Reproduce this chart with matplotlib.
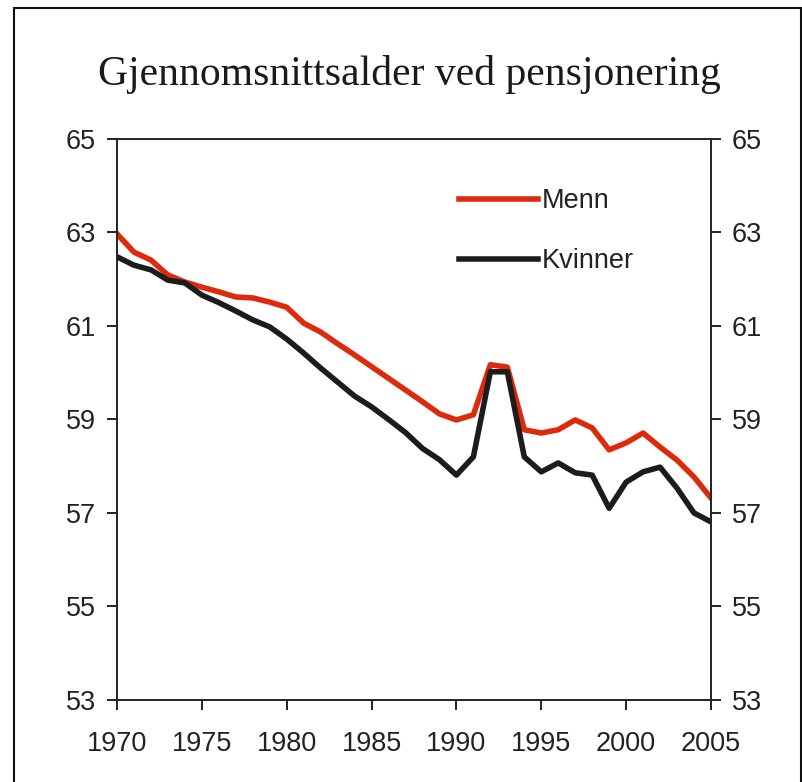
import matplotlib
matplotlib.use("Agg")
import matplotlib.pyplot as plt
from matplotlib.patches import Rectangle

years = list(range(1970, 2006))
menn = [62.97, 62.58, 62.41, 62.09, 61.94, 61.83, 61.73, 61.62, 61.60, 61.51,
        61.40, 61.06, 60.87, 60.62, 60.38, 60.13, 59.88, 59.63, 59.38, 59.12,
        58.99, 59.10, 60.17, 60.12, 58.78, 58.71, 58.78, 58.99, 58.82, 58.35,
        58.50, 58.71, 58.41, 58.13, 57.77, 57.32]
kvinner = [62.48, 62.30, 62.20, 61.98, 61.92, 61.66, 61.50, 61.32, 61.13, 60.98,
           60.72, 60.42, 60.10, 59.80, 59.50, 59.27, 59.00, 58.72, 58.38, 58.14,
           57.81, 58.20, 60.02, 60.02, 58.20, 57.88, 58.07, 57.86, 57.81, 57.10,
           57.66, 57.88, 57.98, 57.53, 57.00, 56.81]
yticks = [53, 55, 57, 59, 61, 63, 65]
xticks = [1970, 1975, 1980, 1985, 1990, 1995, 2000, 2005]
title = "Gjennomsnittsalder ved pensjonering"

fig = plt.figure(figsize=(8.03, 7.82), dpi=100)
ax = fig.add_axes([0.1457, 0.1049, 0.7397, 0.7174])

ax.plot(years, menn, color="#DD2A0C", lw=4.0, label="Menn", solid_joinstyle="round")
ax.plot(years, kvinner, color="#1C1C1C", lw=4.0, label="Kvinner", solid_joinstyle="round")

ax.set_xlim(1970, 2005)
ax.set_ylim(53, 65)
ax.set_xticks(xticks)
ax.set_yticks(yticks)
for s in ax.spines.values():
    s.set_linewidth(1.4)
    s.set_color("#222222")
ax.tick_params(axis="both", direction="out", length=7.2, width=1.4, color="#222222",
               labelsize=19.5, labelcolor="#222222")
ax.tick_params(axis="y", left=True, right=True, labelleft=True, labelright=True, pad=8)
ax.tick_params(axis="x", top=False, pad=15)
for t in ax.xaxis.get_major_ticks():
    t.label1.set_family("Liberation Sans")
for t in ax.yaxis.get_major_ticks():
    t.label1.set_family("Liberation Sans")
    t.label2.set_family("Liberation Sans")

leg = ax.legend(loc="upper left", bbox_to_anchor=(0.576, 0.9125), frameon=False,
                prop={"family": "Liberation Sans", "size": 19.5},
                handlelength=2.9, handletextpad=0.15, labelspacing=1.27,
                borderpad=0, borderaxespad=0)
for t in leg.get_texts():
    t.set_color("#222222")

fig.text(0.51, 0.905, title, ha="center", va="center",
         family="Liberation Serif", fontsize=30, color="#1a1a1a")

fig.patches.append(Rectangle((0.0174, -0.02), 0.98, 1.0098, transform=fig.transFigure,
                             fill=False, edgecolor="#111111", lw=1.5))

fig.savefig("out.png", dpi=100)
